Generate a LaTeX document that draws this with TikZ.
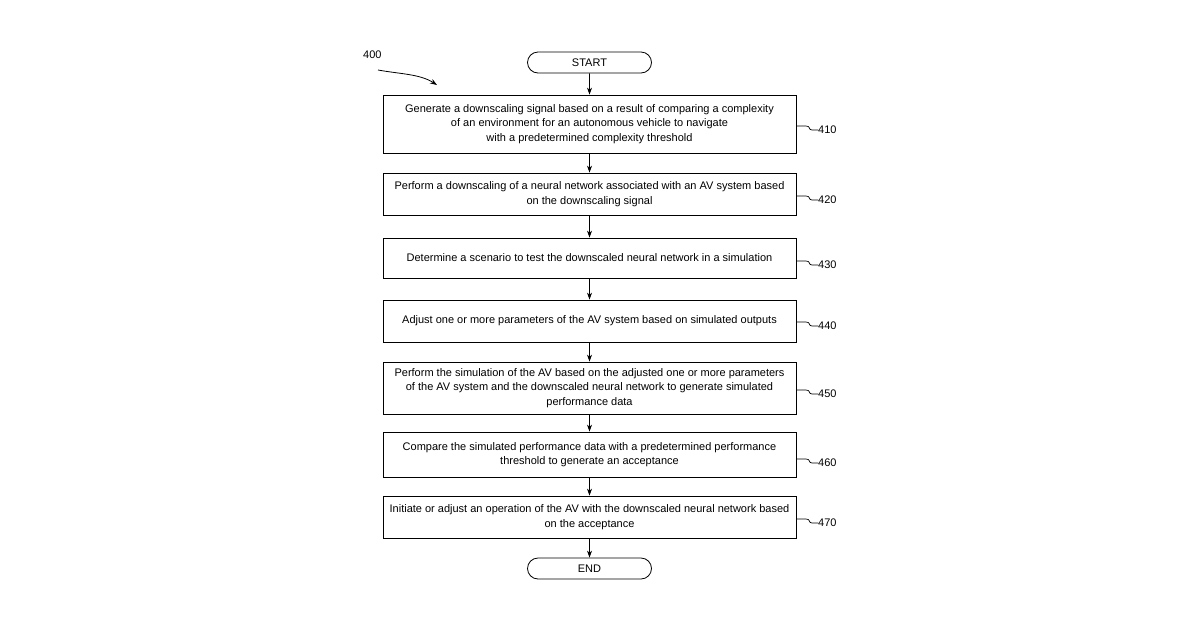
\documentclass[tikz,border=0pt]{standalone}
\usepackage{fontspec}
\setmainfont{Liberation Sans}
\usetikzlibrary{arrows.meta,shapes.misc}
\begin{document}
\begin{tikzpicture}[x=1pt,y=-1pt,
 box/.style={draw,line width=0.8pt,minimum width=413pt,align=center,font=\fontsize{11}{14.5}\selectfont,inner sep=0pt},
 term/.style={draw,line width=0.8pt,rounded rectangle,minimum width=124pt,minimum height=21pt,font=\fontsize{11}{13}\selectfont,inner sep=0pt},
 arr/.style={-{Stealth[length=7pt,width=5pt]},line width=0.8pt},
 lab/.style={font=\fontsize{11}{13}\selectfont,anchor=west,inner sep=0pt}]
\useasboundingbox (0,0) rectangle (1200,630);
\node[term] (s) at (589.5,62.5) {START};
\node[box,minimum height=58pt] (b1) at (589.5,124) {Generate a downscaling signal based on a result of comparing a complexity\\of an environment for an autonomous vehicle to navigate\\with a predetermined complexity threshold};
\node[box,minimum height=42pt] (b2) at (589.5,194) {Perform a downscaling of a neural network associated with an AV system based\\on the downscaling signal};
\node[box,minimum height=40pt] (b3) at (589.5,258) {Determine a scenario to test the downscaled neural network in a simulation};
\node[box,minimum height=42pt] (b4) at (589.5,321) {Adjust one or more parameters of the AV system based on simulated outputs};
\node[box,minimum height=52pt] (b5) at (589.5,388) {Perform the simulation of the AV based on the adjusted one or more parameters\\of the AV system and the downscaled neural network to generate simulated\\performance data};
\node[box,minimum height=45pt] (b6) at (589.5,454.5) {Compare the simulated performance data with a predetermined performance\\threshold to generate an acceptance};
\node[box,minimum height=42pt] (b7) at (589.5,517) {Initiate or adjust an operation of the AV with the downscaled neural network based\\on the acceptance};
\node[term] (e) at (589.5,568.5) {END};
\draw[arr] (s) -- (b1);
\draw[arr] (b1) -- (b2);
\draw[arr] (b2) -- (b3);
\draw[arr] (b3) -- (b4);
\draw[arr] (b4) -- (b5);
\draw[arr] (b5) -- (b6);
\draw[arr] (b6) -- (b7);
\draw[arr] (b7) -- (e);
\foreach \b/\t/\y in {b1/410/130,b2/420/200,b3/430/265,b4/440/326,b5/450/394,b6/460/463,b7/470/523}{
 \node[lab] (l\t) at (818,\y) {\t};
 \draw[line width=0.7pt] (796,\y-4) -- (806,\y-4) .. controls (811,\y-4) and (808,\y) .. (812,\y) -- (l\t.west);
}
\node[lab] (n400) at (363,55) {400};
\coordinate (c400) at (378,70);
\draw[arr] (c400) .. controls (400,74) and (420,74) .. (437,85);
\end{tikzpicture}
\end{document}
